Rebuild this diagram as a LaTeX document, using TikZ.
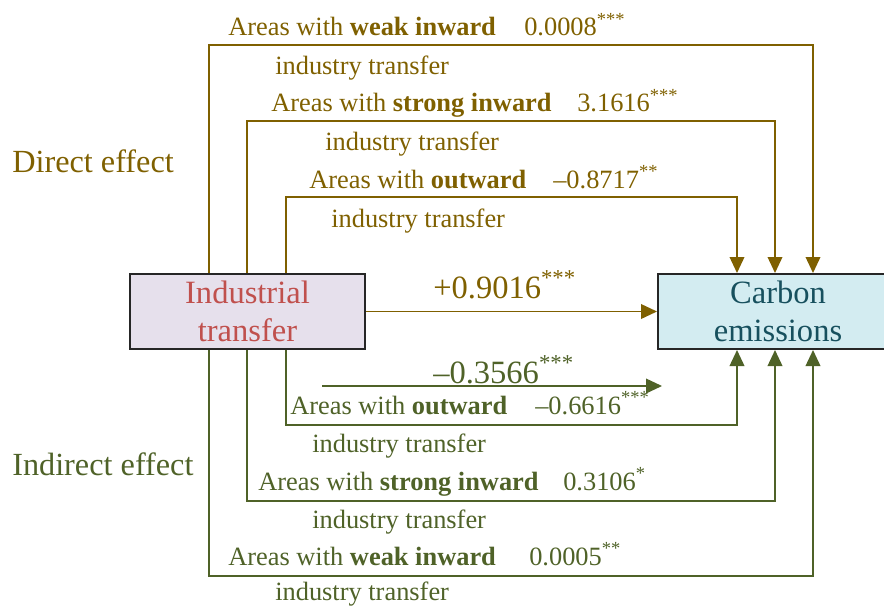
\documentclass[tikz,border=0pt]{standalone}
\usepackage{fontspec}
\setmainfont{Liberation Serif}
\usetikzlibrary{arrows.meta}
\usetikzlibrary{calc}
\definecolor{dircol}{HTML}{7F6000}
\definecolor{indcol}{HTML}{4F6228}
\definecolor{indtext}{HTML}{C0504D}
\definecolor{indfill}{HTML}{E6E0EC}
\definecolor{cartext}{HTML}{17505E}
\definecolor{carfill}{HTML}{D3ECF1}
\tikzstyle{box} = [rectangle, draw=black!85, line width=1.5pt,
    minimum height=56.25pt, align=center, inner sep=0pt,
    font=\fontsize{24.4}{29}\selectfont]
\tikzstyle{dline} = [draw=dircol, line width=1.2pt,
    -{Triangle[length=12pt,width=11pt]}]
\tikzstyle{iline} = [draw=indcol, line width=1.2pt,
    -{Triangle[length=12pt,width=11pt]}]
\tikzstyle{lab} = [anchor=base west, inner sep=0pt,
    font=\fontsize{19.8}{22}\selectfont]
\tikzstyle{big} = [anchor=base west, inner sep=0pt,
    font=\fontsize{24.4}{29}\selectfont]
\tikzstyle{head} = [anchor=base west, inner sep=0pt,
    font=\fontsize{24.2}{28}\selectfont]
\begin{document}
\begin{tikzpicture}[x=0.75pt, y=-0.75pt]
  \useasboundingbox (0,0) rectangle (884,606);
  % Place nodes
  \node [box, fill=indfill, text=indtext, minimum width=176.25pt] (ind) at (247.5,311.5) {Industrial\\transfer};
  \node [box, fill=carfill, text=cartext, minimum width=180pt] (car) at (778,311.5) {Carbon\\emissions};

  % Direct effect
  \node [head, text=dircol] (dhead) at (12,172) {Direct effect};
  \path [dline] ($(ind.north west)+(80,0)$) -- ++(0,-228) -| ($(car.north west)+(156,0)$);
  \path [dline] ($(ind.north west)+(118,0)$) -- ++(0,-152) -| ($(car.north west)+(118,0)$);
  \path [dline] ($(ind.north west)+(157,0)$) -- ++(0,-76) -| ($(car.north west)+(80,0)$);
  \path [dline] (ind.east) -- (car.west);

  \node [lab, text=dircol] (dweak) at (228,36) {Areas with \textbf{weak inward}};
  \node [lab, text=dircol] (dweakv) at (524,36) {0.0008\textsuperscript{***}};
  \node [lab, text=dircol] (dweaki) at (275,75) {industry transfer};
  \node [lab, text=dircol] (dstrong) at (271,112) {Areas with \textbf{strong inward}};
  \node [lab, text=dircol] (dstrongv) at (577,112) {3.1616\textsuperscript{***}};
  \node [lab, text=dircol] (dstrongi) at (325,151) {industry transfer};
  \node [lab, text=dircol] (dout) at (309,188) {Areas with \textbf{outward}};
  \node [lab, text=dircol] (doutv) at (553,188) {\textendash0.8717\textsuperscript{**}};
  \node [lab, text=dircol] (douti) at (331,227) {industry transfer};
  \node [big, text=dircol] (dtotal) at (433,298) {+0.9016\textsuperscript{***}};

  % Indirect effect
  \node [head, text=indcol] (ihead) at (12,475) {Indirect effect};
  \coordinate (m1) at (322,386);
  \coordinate (m2) at (662,386);
  \path [iline] (m1) -- (m2);
  \node [big, text=indcol] (itotal) at (433,383) {\textendash0.3566\textsuperscript{***}};
  \path [iline] ($(ind.south west)+(157,0)$) -- ++(0,75) -| ($(car.south west)+(80,0)$);
  \path [iline] ($(ind.south west)+(118,0)$) -- ++(0,151) -| ($(car.south west)+(118,0)$);
  \path [iline] ($(ind.south west)+(80,0)$) -- ++(0,226) -| ($(car.south west)+(156,0)$);

  \node [lab, text=indcol] (iout) at (290,414) {Areas with \textbf{outward}};
  \node [lab, text=indcol] (ioutv) at (535,414) {\textendash0.6616\textsuperscript{***}};
  \node [lab, text=indcol] (iouti) at (312,452) {industry transfer};
  \node [lab, text=indcol] (istrong) at (258,490) {Areas with \textbf{strong inward}};
  \node [lab, text=indcol] (istrongv) at (563,490) {0.3106\textsuperscript{*}};
  \node [lab, text=indcol] (istrongi) at (312,528) {industry transfer};
  \node [lab, text=indcol] (iweak) at (228,565) {Areas with \textbf{weak inward}};
  \node [lab, text=indcol] (iweakv) at (529,565) {0.0005\textsuperscript{**}};
  \node [lab, text=indcol] (iweaki) at (275,600) {industry transfer};
\end{tikzpicture}
\end{document}
